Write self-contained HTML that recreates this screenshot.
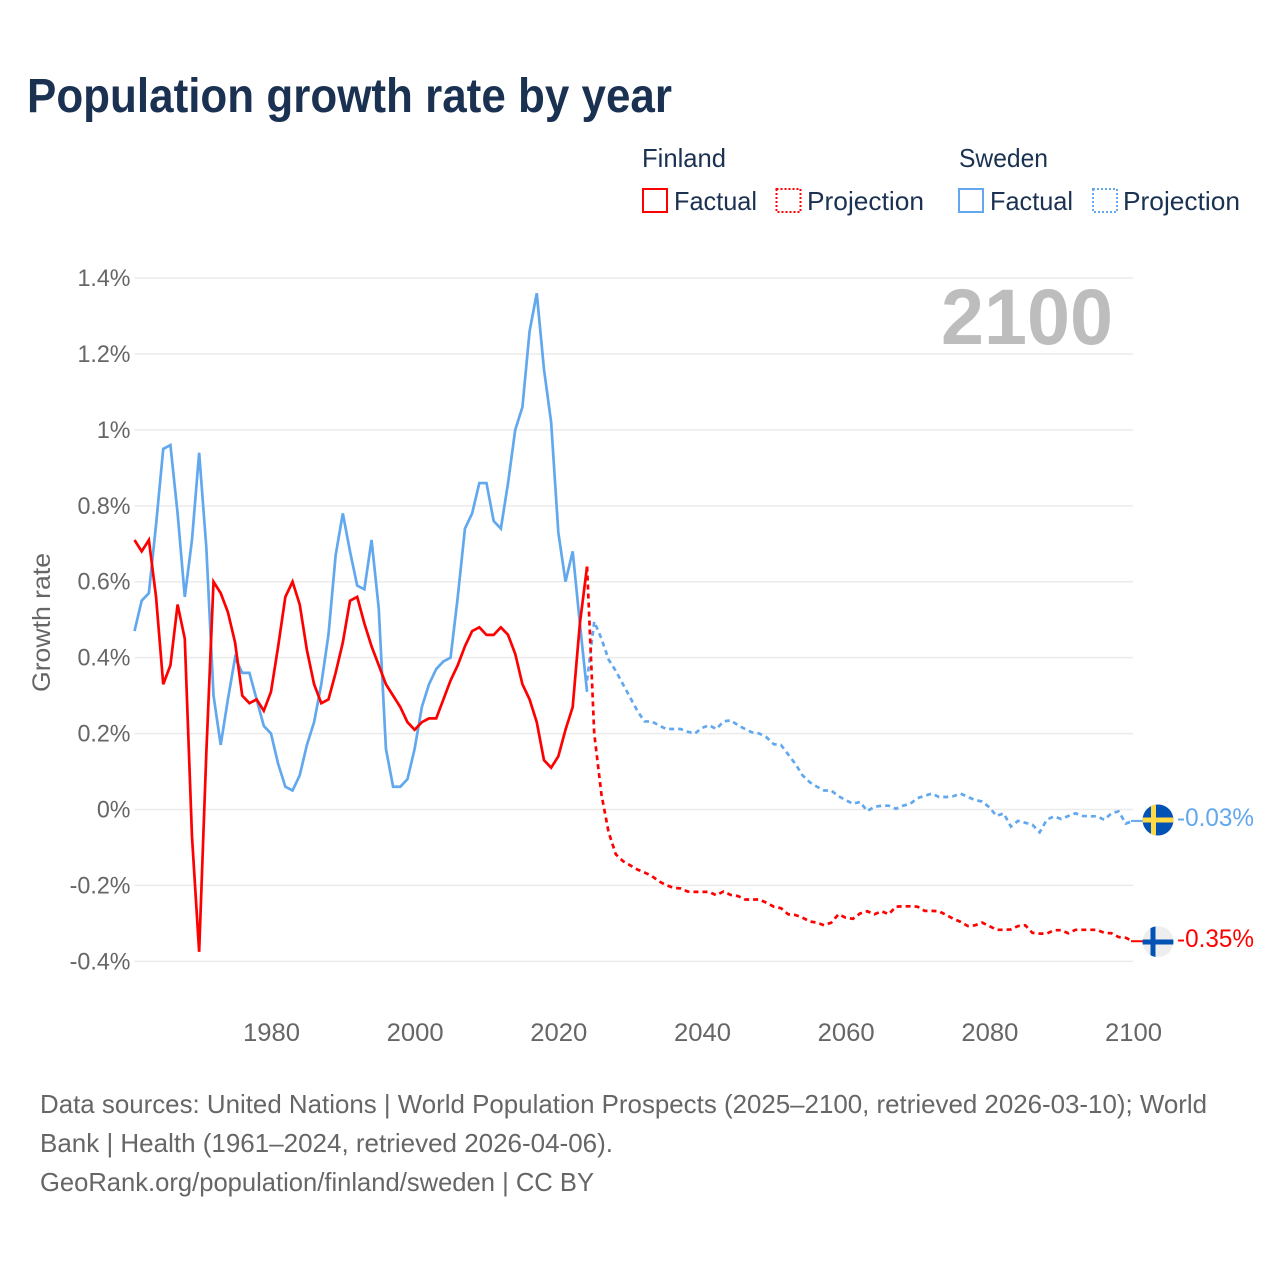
<!DOCTYPE html>
<html lang="en">
<head>
<meta charset="utf-8">
<title>Population growth rate by year</title>
<style>
html,body{margin:0;padding:0;background:#fff;width:1280px;height:1280px;overflow:hidden}
svg{display:block}
text{font-family:"Liberation Sans",sans-serif}
</style>
</head>
<body>
<svg id="chart" xmlns="http://www.w3.org/2000/svg" width="1280" height="1280" viewBox="0 0 1280 1280">
  <defs>
    <clipPath id="flag-clip-se"><circle cx="1158" cy="820" r="15.5"/></clipPath>
    <clipPath id="flag-clip-fi"><circle cx="1158" cy="941.7" r="15.5"/></clipPath>
  </defs>
  <rect width="1280" height="1280" fill="#fff"/>
  <text x="27" y="112" font-size="48" font-weight="700" fill="#1a3152" textLength="645" lengthAdjust="spacingAndGlyphs">Population growth rate by year</text>

  <g font-size="26" fill="#1a3152">
    <text x="642" y="167" textLength="84" lengthAdjust="spacingAndGlyphs">Finland</text>
    <text x="959" y="167" textLength="89" lengthAdjust="spacingAndGlyphs">Sweden</text>
    <rect x="643" y="189" width="24" height="23" fill="none" stroke="#ff0000" stroke-width="2"/>
    <text x="674" y="210" textLength="83" lengthAdjust="spacingAndGlyphs">Factual</text>
    <rect x="776.500" y="189" width="24" height="23" fill="none" stroke="#ff0000" stroke-width="2" stroke-dasharray="2 2"/>
    <text x="807" y="210" textLength="117" lengthAdjust="spacingAndGlyphs">Projection</text>
    <rect x="959" y="189" width="24" height="23" fill="none" stroke="#62a8ee" stroke-width="2"/>
    <text x="990" y="210" textLength="83" lengthAdjust="spacingAndGlyphs">Factual</text>
    <rect x="1093" y="189" width="24" height="23" fill="none" stroke="#62a8ee" stroke-width="2" stroke-dasharray="2 2"/>
    <text x="1123" y="210" textLength="117" lengthAdjust="spacingAndGlyphs">Projection</text>
  </g>

  <g id="grid"></g>
  <g id="y-ticks"></g>
  <g id="x-ticks"></g>

  <text transform="translate(50,692) rotate(-90)" font-size="25" fill="#666666" textLength="139" lengthAdjust="spacingAndGlyphs">Growth rate</text>
  <text x="941" y="344" font-size="79" font-weight="700" fill="#bdbdbd" textLength="172" lengthAdjust="spacingAndGlyphs">2100</text>

  <g id="series"></g>

  <g clip-path="url(#flag-clip-se)">
    <rect x="1142" y="804" width="32" height="32" fill="#0052b4"/>
    <rect x="1151" y="804" width="5" height="32" fill="#ffda44"/>
    <rect x="1142" y="817.500" width="32" height="5" fill="#ffda44"/>
  </g>
  <g clip-path="url(#flag-clip-fi)">
    <rect x="1142" y="926" width="32" height="32" fill="#eeeeee"/>
    <rect x="1150.500" y="926" width="5" height="32" fill="#0052b4"/>
    <rect x="1142" y="939.500" width="32" height="5" fill="#0052b4"/>
  </g>
  <text x="1177" y="826" font-size="25" fill="#62a8ee" textLength="77" lengthAdjust="spacingAndGlyphs">-0.03%</text>
  <text x="1177" y="947" font-size="25" fill="#ff0000" textLength="77" lengthAdjust="spacingAndGlyphs">-0.35%</text>

  <g font-size="26" fill="#666666">
    <text x="40" y="1113" textLength="1167" lengthAdjust="spacingAndGlyphs">Data sources: United Nations | World Population Prospects (2025–2100, retrieved 2026-03-10); World</text>
    <text x="40" y="1152" textLength="573" lengthAdjust="spacingAndGlyphs">Bank | Health (1961–2024, retrieved 2026-04-06).</text>
    <text x="40" y="1191" textLength="554" lengthAdjust="spacingAndGlyphs">GeoRank.org/population/finland/sweden | CC BY</text>
  </g>
</svg>
<script>
const factualStartYear = 1961;
const projectionStartYear = 2024;
const yTickValues = [1.4, 1.2, 1, 0.8, 0.6, 0.4, 0.2, 0, -0.2, -0.4];
const yTickLabels = ['1.4%', '1.2%', '1%', '0.8%', '0.6%', '0.4%', '0.2%', '0%', '-0.2%', '-0.4%'];
const xTickYears = [1980, 2000, 2020, 2040, 2060, 2080, 2100];
const finlandFactual = [
  0.71, 0.68, 0.71, 0.56, 0.33, 0.38, 0.54, 0.45, -0.07, -0.375,
  0.15, 0.60, 0.57, 0.52, 0.44, 0.30, 0.28, 0.29, 0.26, 0.31,
  0.43, 0.56, 0.60, 0.54, 0.42, 0.33, 0.28, 0.29, 0.36, 0.44,
  0.55, 0.56, 0.49, 0.43, 0.38, 0.33, 0.30, 0.27, 0.23, 0.21,
  0.23, 0.24, 0.24, 0.29, 0.34, 0.38, 0.43, 0.47, 0.48, 0.46,
  0.46, 0.48, 0.46, 0.41, 0.33, 0.29, 0.23, 0.13, 0.11, 0.14,
  0.21, 0.27, 0.49, 0.64
];
const swedenFactual = [
  0.47, 0.55, 0.57, 0.75, 0.95, 0.96, 0.78, 0.56, 0.71, 0.94,
  0.69, 0.30, 0.17, 0.29, 0.40, 0.36, 0.36, 0.29, 0.22, 0.20,
  0.12, 0.06, 0.05, 0.09, 0.17, 0.23, 0.33, 0.46, 0.67, 0.78,
  0.68, 0.59, 0.58, 0.71, 0.53, 0.16, 0.06, 0.06, 0.08, 0.16,
  0.27, 0.33, 0.37, 0.39, 0.40, 0.56, 0.74, 0.78, 0.86, 0.86,
  0.76, 0.74, 0.86, 1.00, 1.06, 1.26, 1.36, 1.16, 1.02, 0.73,
  0.60, 0.68, 0.49, 0.31
];
const finlandProjection = [
  0.64, 0.20, 0.04, -0.06, -0.118, -0.136, -0.147, -0.158, -0.166, -0.175,
  -0.189, -0.199, -0.206, -0.208, -0.216, -0.217, -0.217, -0.217, -0.226, -0.216,
  -0.225, -0.228, -0.237, -0.237, -0.237, -0.246, -0.256, -0.26, -0.276, -0.278,
  -0.285, -0.295, -0.298, -0.305, -0.298, -0.276, -0.285, -0.288, -0.274, -0.268,
  -0.276, -0.268, -0.276, -0.256, -0.255, -0.255, -0.256, -0.267, -0.267, -0.268,
  -0.278, -0.288, -0.296, -0.307, -0.305, -0.298, -0.307, -0.317, -0.317, -0.316,
  -0.307, -0.305, -0.325, -0.327, -0.327, -0.318, -0.318, -0.326, -0.317, -0.317,
  -0.317, -0.317, -0.325, -0.326, -0.336, -0.338, -0.347
];
const swedenProjection = [
  0.34, 0.495, 0.45, 0.395, 0.365, 0.33, 0.295, 0.26, 0.232, 0.232,
  0.222, 0.212, 0.212, 0.212, 0.205, 0.2, 0.215, 0.222, 0.212, 0.232,
  0.235, 0.222, 0.212, 0.203, 0.2, 0.19, 0.172, 0.17, 0.145, 0.12,
  0.09, 0.072, 0.06, 0.05, 0.05, 0.035, 0.025, 0.015, 0.02, -0.004,
  0.007, 0.01, 0.01, 0.002, 0.01, 0.015, 0.03, 0.036, 0.042, 0.033,
  0.033, 0.035, 0.042, 0.033, 0.025, 0.021, 0.006, -0.017, -0.01, -0.045,
  -0.03, -0.035, -0.04, -0.06, -0.027, -0.018, -0.025, -0.017, -0.01, -0.017,
  -0.018, -0.018, -0.027, -0.01, -0.005, -0.037, -0.03
];

const SVG_NS = 'http://www.w3.org/2000/svg';
function xScale(year) { return 134.5 + (year - 1961) * (1133 - 134.5) / 139; }
function yScale(v) { return 809.5 - v * 379.6; }
function pathFrom(values, startYear) {
  return values.map(function (v, i) {
    return (i ? 'L' : 'M') + xScale(startYear + i).toFixed(2) + ' ' + yScale(v).toFixed(2);
  }).join(' ');
}

const gridGroup = document.getElementById('grid');
const yTickGroup = document.getElementById('y-ticks');
const xTickGroup = document.getElementById('x-ticks');
const seriesGroup = document.getElementById('series');

yTickValues.forEach(function (v, i) {
  const line = document.createElementNS(SVG_NS, 'line');
  line.setAttribute('x1', 134.5);
  line.setAttribute('x2', 1133);
  line.setAttribute('y1', yScale(v));
  line.setAttribute('y2', yScale(v));
  line.setAttribute('stroke', '#ebebeb');
  line.setAttribute('stroke-width', '1.5');
  
  
  gridGroup.appendChild(line);

  const label = document.createElementNS(SVG_NS, 'text');
  label.setAttribute('x', 130.5);
  label.setAttribute('y', yScale(v) + 8);
  label.setAttribute('text-anchor', 'end');
  label.setAttribute('font-size', '24');
  label.setAttribute('fill', '#666666');
  
  
  label.textContent = yTickLabels[i];
  yTickGroup.appendChild(label);
  label.setAttribute('textLength', (label.getComputedTextLength() * 0.97).toFixed(2));
  label.setAttribute('lengthAdjust', 'spacingAndGlyphs');
});

xTickYears.forEach(function (year) {
  const label = document.createElementNS(SVG_NS, 'text');
  label.setAttribute('x', xScale(year) + 0.5);
  label.setAttribute('y', 1041);
  label.setAttribute('text-anchor', 'middle');
  label.setAttribute('font-size', '25');
  label.setAttribute('fill', '#666666');
  label.setAttribute('textLength', '57');
  label.setAttribute('lengthAdjust', 'spacingAndGlyphs');
  
  
  label.textContent = String(year);
  xTickGroup.appendChild(label);
});

function addLine(values, startYear, color, dashed, name) {
  const p = document.createElementNS(SVG_NS, 'path');
  p.setAttribute('d', pathFrom(values, startYear));
  p.setAttribute('fill', 'none');
  p.setAttribute('stroke', color);
  p.setAttribute('stroke-width', '2.7');
  p.setAttribute('stroke-linejoin', 'miter');
  if (dashed) {
    p.setAttribute('stroke-dasharray', '5 4');
  }
  
  
  seriesGroup.appendChild(p);
}

function addConnector(values, color, name) {
  const last = values[values.length - 1];
  const c = document.createElementNS(SVG_NS, 'line');
  c.setAttribute('x1', xScale(2100) - 2);
  c.setAttribute('x2', 1143);
  c.setAttribute('y1', yScale(last));
  c.setAttribute('y2', yScale(last));
  c.setAttribute('stroke', color);
  c.setAttribute('stroke-width', '2');
  
  
  seriesGroup.appendChild(c);
}

addLine(swedenFactual, factualStartYear, '#62a8ee', false, 'sweden-factual-line');
addLine(swedenProjection, projectionStartYear, '#62a8ee', true, 'sweden-projection-line');
addLine(finlandFactual, factualStartYear, '#ff0000', false, 'finland-factual-line');
addLine(finlandProjection, projectionStartYear, '#ff0000', true, 'finland-projection-line');
addConnector(swedenProjection, '#62a8ee', 'sweden-flag-connector');
addConnector(finlandProjection, '#ff0000', 'finland-flag-connector');
</script>
</body>
</html>
